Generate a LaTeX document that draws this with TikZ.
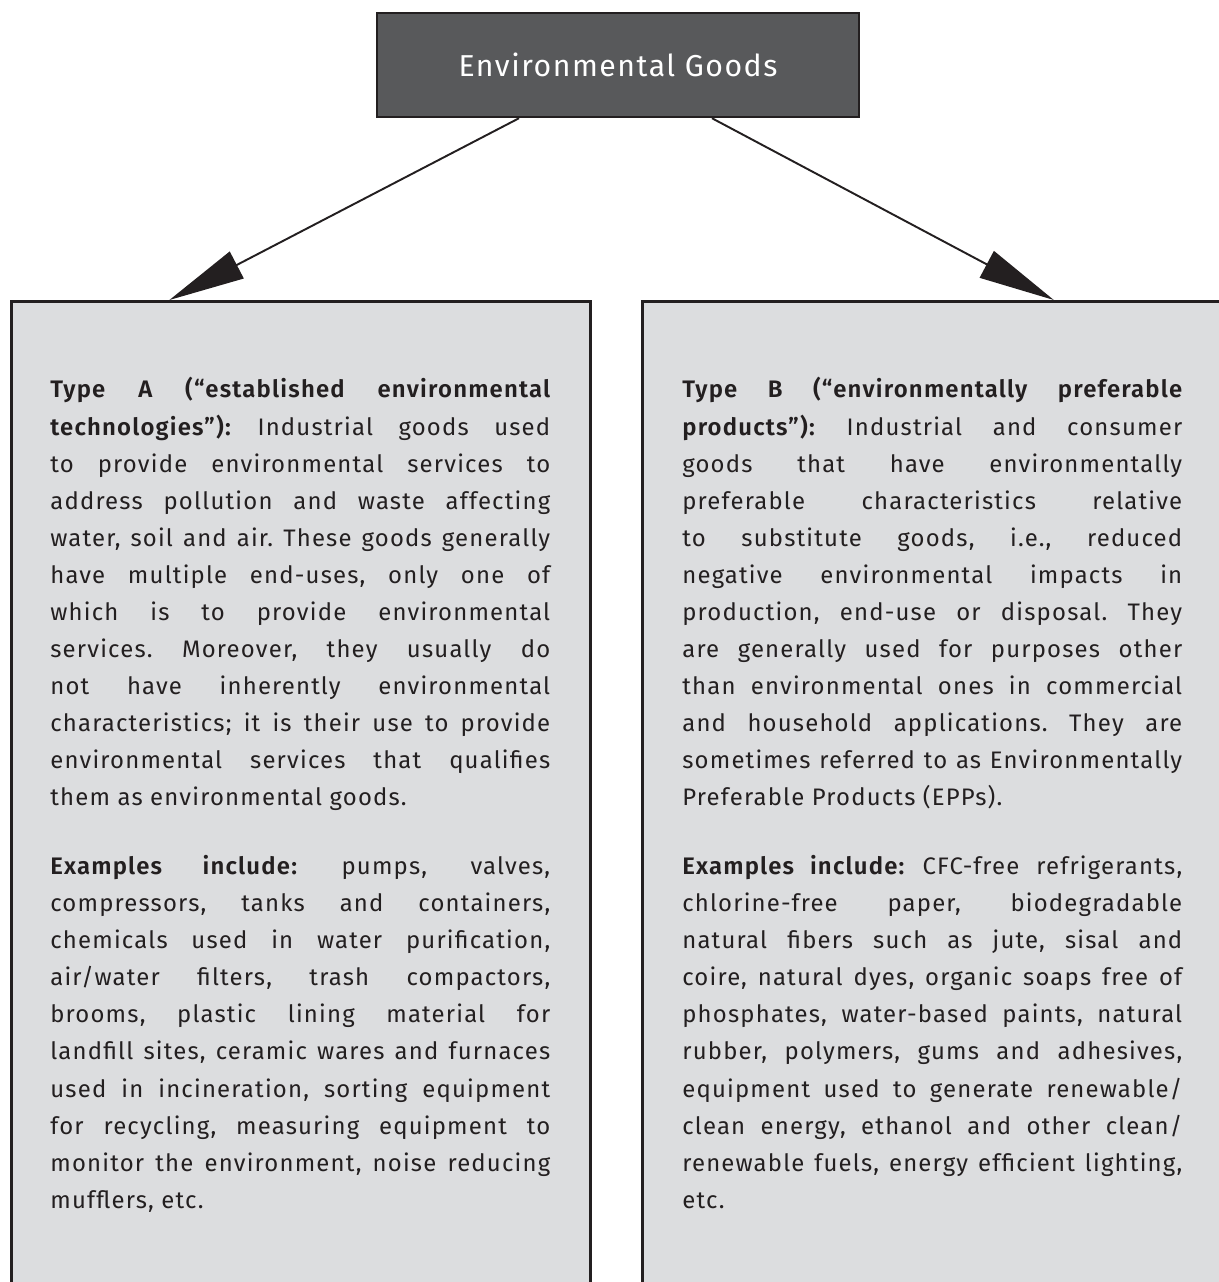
\documentclass[tikz,border=0pt]{standalone}
\usepackage{fontspec}
\setmainfont{Fira Sans}[LetterSpace=5, BoldFont={Fira Sans SemiBold}]
\usetikzlibrary{positioning,arrows.meta,calc}
\definecolor{boxgray}{RGB}{220,221,223}
\definecolor{titlegray}{RGB}{88,89,91}
\definecolor{inkgray}{RGB}{35,31,32}
\frenchspacing

\begin{document}
\begin{tikzpicture}[x=0.02cm,y=-0.02cm]

    \tikzstyle{typebox}=[draw=inkgray, line width=1.6pt, fill=boxgray, rectangle, anchor=north west, minimum width=11.58cm, minimum height=21cm, inner sep=0pt];
    \tikzstyle{bodytext}=[text=inkgray, text width=10cm, align=justify, inner sep=0pt, font=\fontsize{13.6pt}{21.1pt}\selectfont];
    \tikzstyle{link}=[draw=inkgray, line width=1.1pt];

    \useasboundingbox (0,0) rectangle (1219,1282);
    \clip (0,0) rectangle (1219,1282);

    \begin{scope}[>={Triangle[length=1.52cm,width=0.6cm]}]
      \node (goods) at (618,65) [draw=inkgray, line width=1.4pt, fill=titlegray, rectangle, minimum height=2.08cm, minimum width=9.64cm, text=white, font=\fontsize{17.2pt}{21pt}\selectfont]{Environmental Goods};

      \node (typeA) at (10,300) [typebox]{};
      \node (typeB) at (641,300) [typebox]{};

      % box texts, one line of the reference per \linebreak
      \node (typeAtext) [below right=1.96cm and 0.8cm of typeA.north west, anchor=base west, bodytext]{%
        \textbf{Type A (“established environmental\linebreak
        technologies”):} Industrial goods used\linebreak
        to provide environmental services to\linebreak
        address pollution and waste affecting\linebreak
        water, soil and air. These goods generally\linebreak
        have multiple end-uses, only one of\linebreak
        which is to provide environmental\linebreak
        services. Moreover, they usually do\linebreak
        not have inherently environmental\linebreak
        characteristics; it is their use to provide\linebreak
        environmental services that qualifies\linebreak
        them as environmental goods.\par\vspace{0.636cm}
        \textbf{Examples include:} pumps, valves,\linebreak
        compressors, tanks and containers,\linebreak
        chemicals used in water purification,\linebreak
        air/water filters, trash compactors,\linebreak
        brooms, plastic lining material for\linebreak
        landfill sites, ceramic wares and furnaces\linebreak
        used in incineration, sorting equipment\linebreak
        for recycling, measuring equipment to\linebreak
        monitor the environment, noise reducing\linebreak
        mufflers, etc.};

      \node (typeBtext) [below right=1.96cm and 0.82cm of typeB.north west, anchor=base west, bodytext]{%
        \textbf{Type B (“environmentally preferable\linebreak
        products”):} Industrial and consumer\linebreak
        goods that have environmentally\linebreak
        preferable characteristics relative\linebreak
        to substitute goods, i.e., reduced\linebreak
        negative environmental impacts in\linebreak
        production, end-use or disposal. They\linebreak
        are generally used for purposes other\linebreak
        than environmental ones in commercial\linebreak
        and household applications. They are\linebreak
        sometimes referred to as Environmentally\linebreak
        Preferable Products (EPPs).\par\vspace{0.636cm}
        \textbf{Examples include:} CFC-free refrigerants,\linebreak
        chlorine-free paper, biodegradable\linebreak
        natural fibers such as jute, sisal and\linebreak
        coire, natural dyes, organic soaps free of\linebreak
        phosphates, water-based paints, natural\linebreak
        rubber, polymers, gums and adhesives,\linebreak
        equipment used to generate renewable/\linebreak
        clean energy, ethanol and other clean/\linebreak
        renewable fuels, energy efficient lighting,\linebreak
        etc.};

      \draw [->, link] ([xshift=-1.98cm]goods.south) -- ([xshift=-2.63cm]typeA.north);
      \draw [->, link] ([xshift=1.88cm]goods.south) -- ([xshift=2.44cm]typeB.north);
    \end{scope}
\end{tikzpicture}
\end{document}
